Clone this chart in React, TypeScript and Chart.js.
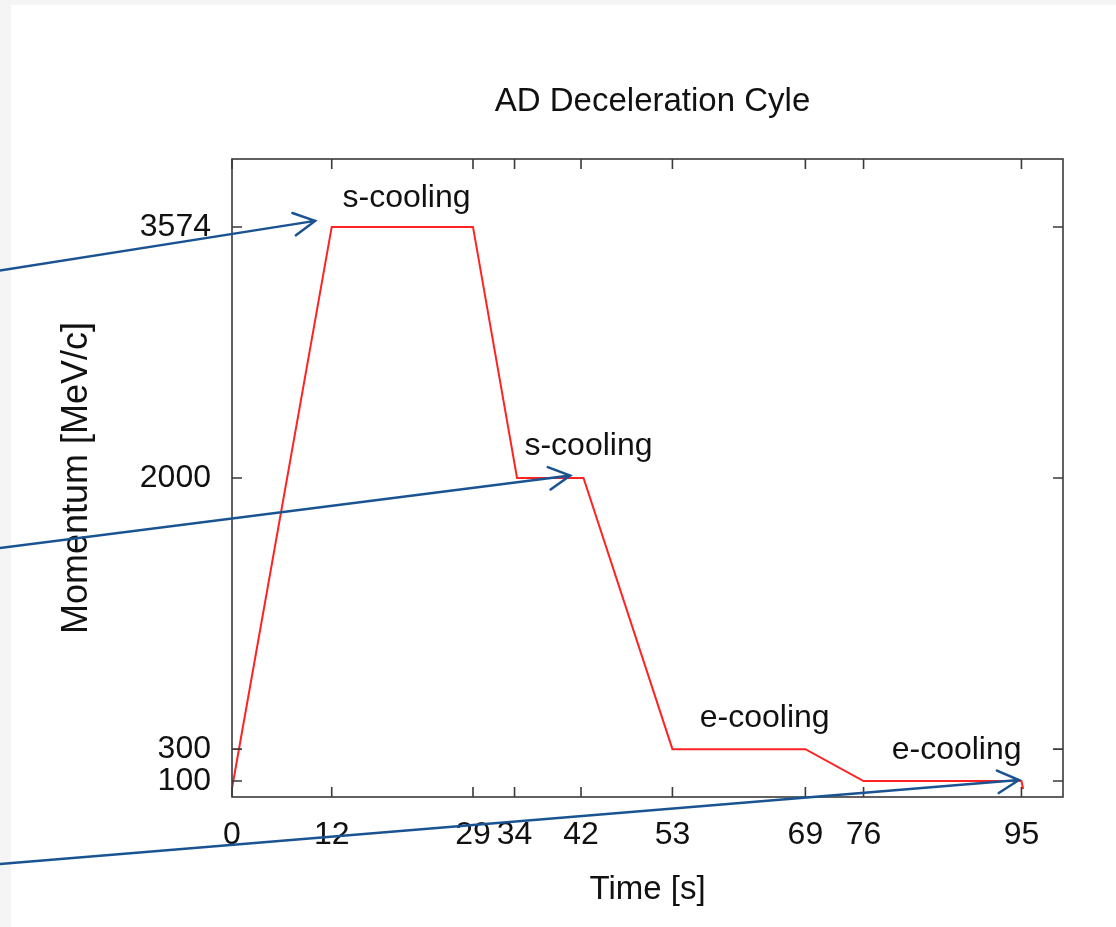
import React, { useEffect, useRef } from "react";
import { Chart, registerables } from "chart.js";

Chart.register(...registerables);

// ---- data ----
const times = [0, 12, 29, 34.3, 42.3, 53, 69, 76, 95, 95.2];
const momentum = [55, 3574, 3574, 2000, 2000, 300, 300, 100, 100, 50];
const xTickValues = [0, 12, 29, 34, 42, 53, 69, 76, 95];
const yTickValues = [100, 300, 2000, 3574];

const chartTitle = "AD Deceleration Cyle";

// annotation labels (data coordinates)
const noteLabels = ["s-cooling", "s-cooling", "e-cooling", "e-cooling"];
const noteX = [21, 42.9, 64.1, 87.2];
const noteY = [3756, 2197, 495, 294];

// arrows: tail -> tip (data coordinates)
const arrowTailX = [-28, -28, -28];
const arrowTailY = [3300, 1560, -420];
const arrowTipX = [10, 40.7, 94.7];
const arrowTipY = [3612, 2015, 106];

const FONT = "'Liberation Sans', Arial, Helvetica, sans-serif";

const framePlugin = {
  id: "frameAndTicks",
  beforeDraw(chart: any) {
    const ctx = chart.ctx;
    ctx.save();
    ctx.fillStyle = "#ffffff";
    ctx.fillRect(0, 0, chart.width, chart.height);
    // faint textured edges
    ctx.fillStyle = "#f5f5f5";
    ctx.fillRect(0, 0, 11, chart.height);
    ctx.fillRect(0, 0, chart.width, 5);
    ctx.restore();
  },
  afterDraw(chart: any) {
    const ctx = chart.ctx;
    const { left, right, top, bottom } = chart.chartArea;
    const xs = chart.scales.x;
    const ys = chart.scales.y;
    ctx.save();
    ctx.strokeStyle = "#3a3a3a";
    ctx.lineWidth = 1.6;
    ctx.strokeRect(left, top, right - left, bottom - top);
    const tl = 10;
    ctx.beginPath();
    xTickValues.forEach((v) => {
      const px = xs.getPixelForValue(v);
      ctx.moveTo(px, bottom);
      ctx.lineTo(px, bottom - tl);
      ctx.moveTo(px, top);
      ctx.lineTo(px, top + tl);
    });
    yTickValues.forEach((v) => {
      const py = ys.getPixelForValue(v);
      ctx.moveTo(left, py);
      ctx.lineTo(left + tl, py);
      ctx.moveTo(right, py);
      ctx.lineTo(right - tl, py);
    });
    ctx.stroke();

    // title, centred over the plot area
    ctx.fillStyle = "#111111";
    ctx.font = `33px ${FONT}`;
    ctx.textAlign = "center";
    ctx.textBaseline = "middle";
    ctx.fillText(chartTitle, (left + right) / 2 + 5, top - 57);

    // annotation texts
    ctx.font = `32px ${FONT}`;
    noteLabels.forEach((t, i) => {
      ctx.fillText(t, xs.getPixelForValue(noteX[i]), ys.getPixelForValue(noteY[i]));
    });

    // arrows
    ctx.strokeStyle = "#1a5391";
    ctx.lineWidth = 2.5;
    ctx.lineCap = "round";
    arrowTipX.forEach((_, i) => {
      const x0 = xs.getPixelForValue(arrowTailX[i]);
      const y0 = ys.getPixelForValue(arrowTailY[i]);
      const x1 = xs.getPixelForValue(arrowTipX[i]);
      const y1 = ys.getPixelForValue(arrowTipY[i]);
      const ang = Math.atan2(y1 - y0, x1 - x0);
      const hl = 24;
      const ha = (28 * Math.PI) / 180;
      ctx.beginPath();
      ctx.moveTo(x0, y0);
      ctx.lineTo(x1, y1);
      ctx.moveTo(x1 - hl * Math.cos(ang - ha), y1 - hl * Math.sin(ang - ha));
      ctx.lineTo(x1, y1);
      ctx.lineTo(x1 - hl * Math.cos(ang + ha), y1 - hl * Math.sin(ang + ha));
      ctx.stroke();
    });
    ctx.restore();
  },
};

export default function App() {
  const ref = useRef<HTMLCanvasElement | null>(null);
  useEffect(() => {
    document.body.style.margin = "0";
    const canvas = ref.current;
    if (!canvas) return;
    const chart = new Chart(canvas, {
      type: "line",
      data: {
        datasets: [
          {
            data: times.map((t, i) => ({ x: t, y: momentum[i] })),
            borderColor: "#ff2222",
            borderWidth: 2,
            pointRadius: 0,
            tension: 0,
            fill: false,
          },
        ],
      },
      options: {
        animation: false,
        responsive: false,
        devicePixelRatio: 1,
        layout: { padding: { left: 0, right: 53, top: 159, bottom: 0 } },
        plugins: {
          legend: { display: false },
          tooltip: { enabled: false },
          title: { display: false },
        },
        scales: {
          x: {
            type: "linear",
            min: 0,
            max: 100,
            grid: { display: false, drawTicks: false },
            border: { display: false },
            afterBuildTicks: (scale: any) => {
              scale.ticks = xTickValues.map((v) => ({ value: v }));
            },
            afterFit: (scale: any) => {
              scale.height = 130;
            },
            ticks: {
              autoSkip: false,
              maxRotation: 0,
              padding: 19,
              color: "#111111",
              font: { family: FONT, size: 32 },
              callback: (v: any) => String(v),
            },
            title: {
              display: true,
              text: "Time [s]",
              color: "#111111",
              font: { family: FONT, size: 33, lineHeight: 1.2 },
              padding: { top: 0, bottom: 17 },
            },
          },
          y: {
            type: "linear",
            min: 0,
            max: 4000,
            grid: { display: false, drawTicks: false },
            border: { display: false },
            afterBuildTicks: (scale: any) => {
              scale.ticks = yTickValues.map((v) => ({ value: v }));
            },
            afterFit: (scale: any) => {
              scale.width = 232;
            },
            ticks: {
              autoSkip: false,
              padding: 21,
              color: "#111111",
              font: { family: FONT, size: 32 },
              callback: (v: any) => String(v),
            },
            title: {
              display: true,
              text: "Momentum [MeV/c]",
              color: "#111111",
              font: { family: FONT, size: 36, lineHeight: 1.2 },
              padding: { top: 55, bottom: 0 },
            },
          },
        },
      },
      plugins: [framePlugin],
    } as any);
    return () => chart.destroy();
  }, []);
  return (
    <div style={{ position: "absolute", left: 0, top: 0, width: 1116, height: 927 }}>
      <canvas ref={ref} width={1116} height={927} style={{ display: "block", width: 1116, height: 927 }} />
    </div>
  );
}
